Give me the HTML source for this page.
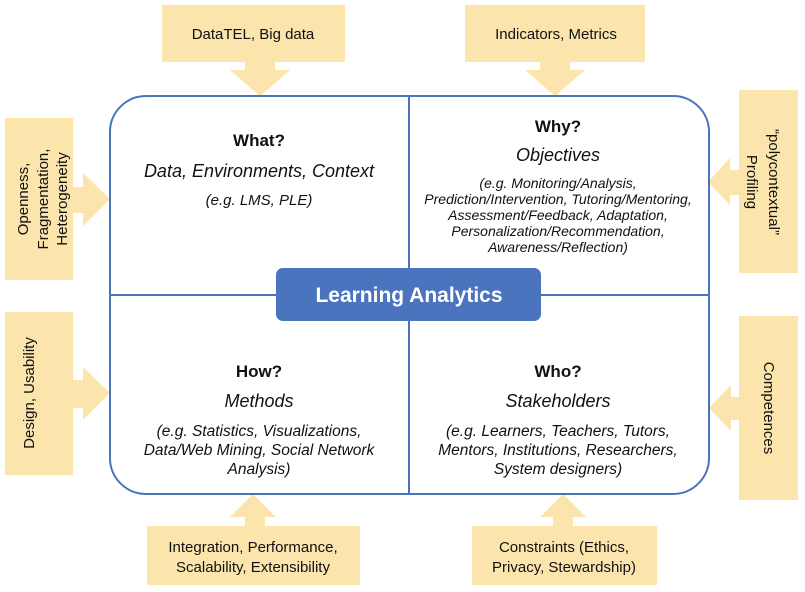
<!DOCTYPE html>
<html><head><style>
html,body{margin:0;padding:0;background:#fff;}
svg{display:block;}
text{font-family:"Liberation Sans",sans-serif;fill:#111;}
.i{font-style:italic;}
</style></head><body>
<svg width="805" height="592" viewBox="0 0 805 592" xmlns="http://www.w3.org/2000/svg">
<g fill="#fbe5ac">
<rect x="162" y="5" width="183" height="57"/>
<polygon points="245,62 275,62 275,70 290,70 260,96 230,70 245,70"/>
<rect x="465" y="5" width="180" height="57"/>
<polygon points="540,62 570,62 570,70 585,70 555,96 525,70 540,70"/>
<rect x="5" y="118" width="68" height="162"/>
<polygon points="73,187 83,187 83,173 110,199 83,226 83,213 73,213"/>
<rect x="5" y="312" width="68" height="163"/>
<polygon points="73,380 83,380 83,367 110,393 83,420 83,408 73,408"/>
<rect x="739" y="90" width="59" height="183"/>
<polygon points="739,170 730,170 730,158 708,182 730,205 730,195 739,195"/>
<rect x="739" y="316" width="59" height="184"/>
<polygon points="739,397 731,397 731,385 709,408 731,431 731,420 739,420"/>
<rect x="147" y="526" width="213" height="59"/>
<polygon points="245,526 265,526 265,517 276,517 253,494 230,517 245,517"/>
<rect x="472" y="526" width="185" height="59"/>
<polygon points="553,526 573,526 573,517 586,517 563,494 540,517 553,517"/>
</g>
<rect x="110" y="96" width="599" height="398" rx="36" fill="none" stroke="#4a74bd" stroke-width="2"/>
<line x1="409" y1="96" x2="409" y2="494" stroke="#4a74bd" stroke-width="2"/>
<line x1="110" y1="295" x2="709" y2="295" stroke="#4a74bd" stroke-width="2"/>
<rect x="276" y="268" width="265" height="53" rx="7" fill="#4a74bd"/>
<text x="409" y="302" text-anchor="middle" font-size="21" font-weight="bold" style="fill:#fff">Learning Analytics</text>

<g font-size="15" text-anchor="middle">
<text x="253" y="39">DataTEL, Big data</text>
<text x="556" y="39">Indicators, Metrics</text>
<text x="253" y="552">Integration, Performance,</text>
<text x="253" y="572">Scalability, Extensibility</text>
<text x="564" y="552">Constraints (Ethics,</text>
<text x="564" y="572">Privacy, Stewardship)</text>
<text transform="translate(28,199) rotate(-90)">Openness,</text>
<text transform="translate(48,199) rotate(-90)">Fragmentation,</text>
<text transform="translate(67,199) rotate(-90)">Heterogeneity</text>
<text transform="translate(34,393) rotate(-90)">Design, Usability</text>
<text transform="translate(769,182) rotate(90)">“polycontextual”</text>
<text transform="translate(747,182) rotate(90)">Profiling</text>
<text transform="translate(764,408) rotate(90)">Competences</text>
</g>

<g text-anchor="middle">
<text x="259" y="146" font-size="17" font-weight="bold">What?</text>
<text x="259" y="177" font-size="18" class="i">Data, Environments, Context</text>
<text x="259" y="205" font-size="15" class="i">(e.g. LMS, PLE)</text>

<text x="558" y="132" font-size="17" font-weight="bold">Why?</text>
<text x="558" y="161" font-size="18" class="i">Objectives</text>
<g font-size="14" class="i">
<text x="558" y="188">(e.g. Monitoring/Analysis,</text>
<text x="558" y="204">Prediction/Intervention, Tutoring/Mentoring,</text>
<text x="558" y="220">Assessment/Feedback, Adaptation,</text>
<text x="558" y="236">Personalization/Recommendation,</text>
<text x="558" y="252">Awareness/Reflection)</text>
</g>

<text x="259" y="377" font-size="17" font-weight="bold">How?</text>
<text x="259" y="407" font-size="18" class="i">Methods</text>
<g font-size="15.5" class="i">
<text x="259" y="436">(e.g. Statistics, Visualizations,</text>
<text x="259" y="455">Data/Web Mining, Social Network</text>
<text x="259" y="474">Analysis)</text>
</g>

<text x="558" y="377" font-size="17" font-weight="bold">Who?</text>
<text x="558" y="407" font-size="18" class="i">Stakeholders</text>
<g font-size="15.5" class="i">
<text x="558" y="436">(e.g. Learners, Teachers, Tutors,</text>
<text x="558" y="455">Mentors, Institutions, Researchers,</text>
<text x="558" y="474">System designers)</text>
</g>
</g>
</svg>
</body></html>
